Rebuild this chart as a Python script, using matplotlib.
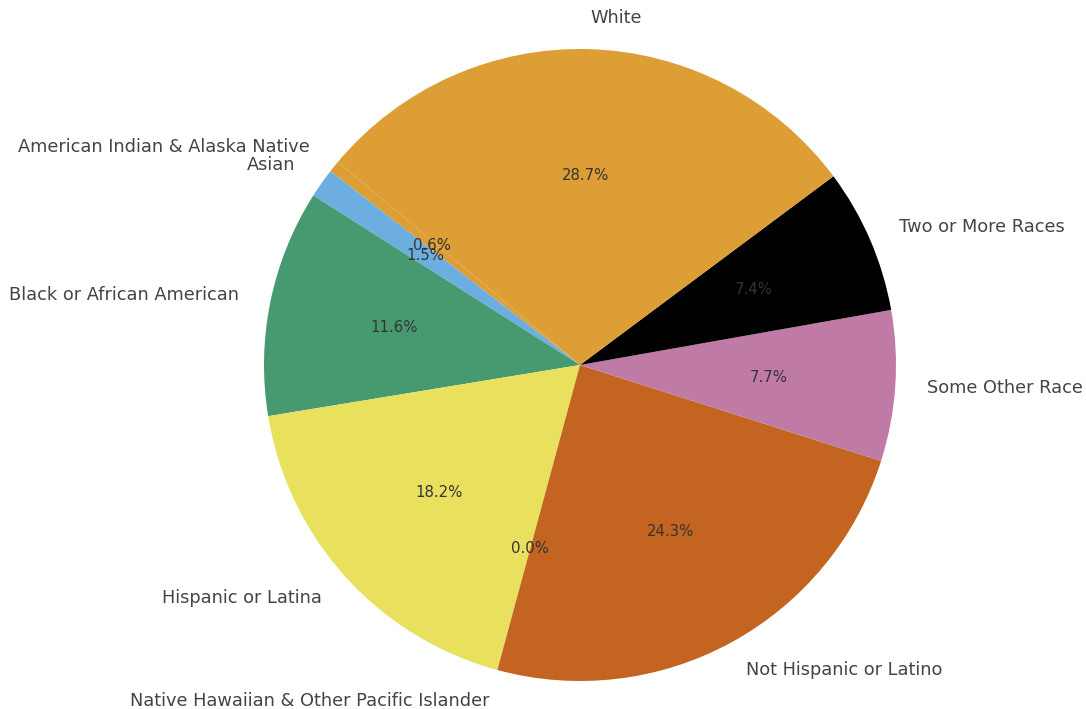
import matplotlib
matplotlib.use("Agg")
import matplotlib.pyplot as plt

categories = [
    "American Indian & Alaska Native",
    "Asian",
    "Black or African American",
    "Hispanic or Latina",
    "Native Hawaiian & Other Pacific Islander",
    "Not Hispanic or Latino",
    "Some Other Race",
    "Two or More Races",
    "White",
]
values = [0.6, 1.5, 11.6, 18.2, 0.0, 24.3, 7.7, 7.4, 28.7]
colors = ["#DC9E35", "#6DAEE0", "#479A70", "#E9E05E", "#3F7FB0",
          "#C46421", "#BF7BA5", "#000000", "#DC9E35"]

fig = plt.figure(figsize=(10.86, 7.09), dpi=100)
ax = fig.add_axes([0, 0, 1, 1])
wedges, texts, autotexts = ax.pie(
    values, labels=categories, colors=colors, startangle=140,
    autopct="%1.1f%%", textprops={"fontsize": 12.8, "color": "#444444"},
)
for t in autotexts:
    t.set_fontsize(10.7)
    t.set_color("#333333")

ax.set_aspect("auto")
cx, cy, r = 580, 709 - 365, 316
ax.set_xlim(-cx / r, (1086 - cx) / r)
ax.set_ylim(-cy / r, (709 - cy) / r)
ax.axis("off")
fig.savefig("out.png", dpi=100)
